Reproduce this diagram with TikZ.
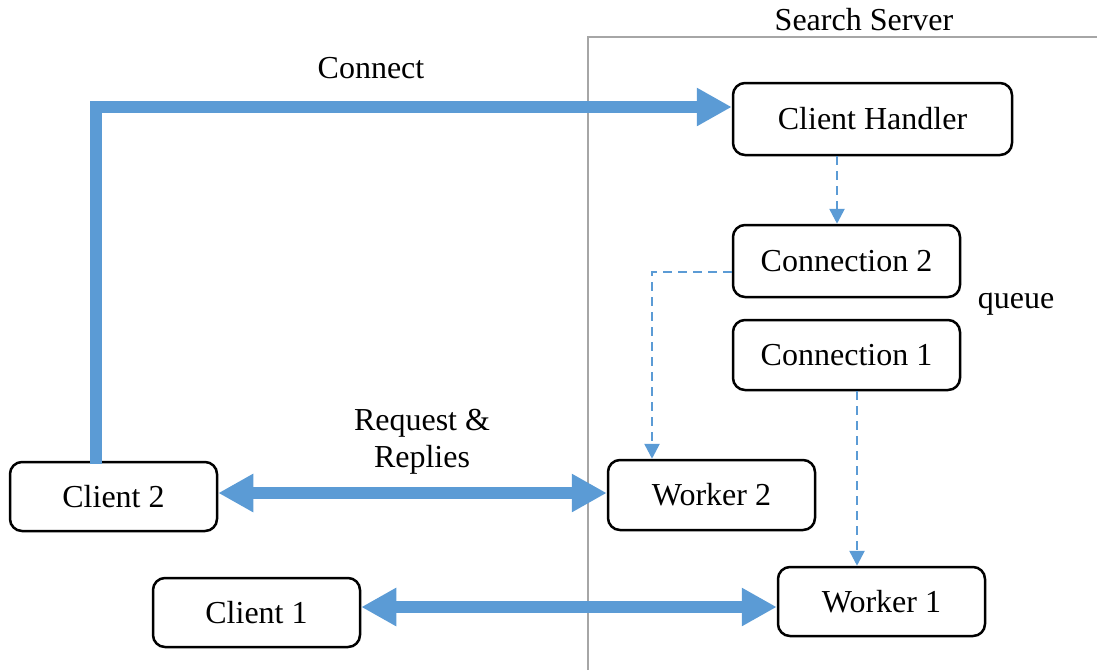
\documentclass[tikz,border=0pt]{standalone}
\usepackage{fontspec}
\setmainfont{Liberation Serif}
\usetikzlibrary{arrows.meta}
\definecolor{flowblue}{HTML}{5B9BD5}
\definecolor{framegray}{HTML}{A6A6A6}
\begin{document}
\begin{tikzpicture}[x=1pt,y=-1pt,
  box/.style={draw, line width=2.5pt, rounded corners=12pt, inner sep=0pt,
    font=\fontsize{32}{37}\selectfont},
  lbl/.style={inner sep=0pt, font=\fontsize{32}{37}\selectfont},
  bigflow/.style={draw=flowblue, line width=12pt, line join=miter},
  onehead/.style={-{Triangle[length=35pt,width=36pt]}},
  twohead/.style={{Triangle[length=35pt,width=36pt]}-{Triangle[length=35pt,width=36pt]}},
  dashflow/.style={draw=flowblue, line width=2.6pt, dash pattern=on 9pt off 6pt,
    -{Triangle[length=15pt,width=15pt]}},
  frame/.style={draw=framegray, line width=2.2pt}]
\useasboundingbox (0,0) rectangle (1097,670);

% server boundary
\draw[frame] (588,670) -- (588,37) -- (1097,37);
\node[lbl, anchor=base] (ss) at (864,30) {Search Server};

% components
\node[box, minimum width=279pt, minimum height=72pt] (ch) at (872.5,119) {Client Handler};
\node[box, minimum width=227pt, minimum height=72pt] (c2) at (846.5,261) {Connection 2};
\node[box, minimum width=227pt, minimum height=70pt] (c1) at (846.5,355) {Connection 1};
\node[box, minimum width=207pt, minimum height=70pt] (w2) at (711.5,495) {Worker 2};
\node[box, minimum width=207pt, minimum height=69pt] (w1) at (881.5,601.5) {Worker 1};
\node[box, minimum width=207pt, minimum height=69pt] (cl2) at (113.5,496.5) {Client 2};
\node[box, minimum width=207pt, minimum height=69pt] (cl1) at (256.5,612.5) {Client 1};

\node[lbl, anchor=base] (qlbl) at (1016,308) {queue};
\node[lbl, anchor=base] (clbl) at (371,78) {Connect};
\node[lbl, align=center, anchor=base] (rlbl) at (422,467) {Request \&\\Replies};

% queue hand-off
\draw[dashflow] (ch.south -| 837,0) -- (c2.north -| 837,0);
\draw[dashflow] (c2.west |- 0,272) -- (652,272) -- (w2.north -| 652,0);
\draw[dashflow] (c1.south -| 857,0) -- (w1.north -| 857,0);

% client traffic
\draw[bigflow, onehead] ([yshift=-3pt]cl2.north -| 96,0) -- (96,107) -- (ch.west |- 0,107);
\draw[bigflow, twohead] (cl2.east |- 0,493) -- (w2.west |- 0,493);
\draw[bigflow, twohead] (cl1.east |- 0,607) -- (w1.west |- 0,607);
\end{tikzpicture}
\end{document}
